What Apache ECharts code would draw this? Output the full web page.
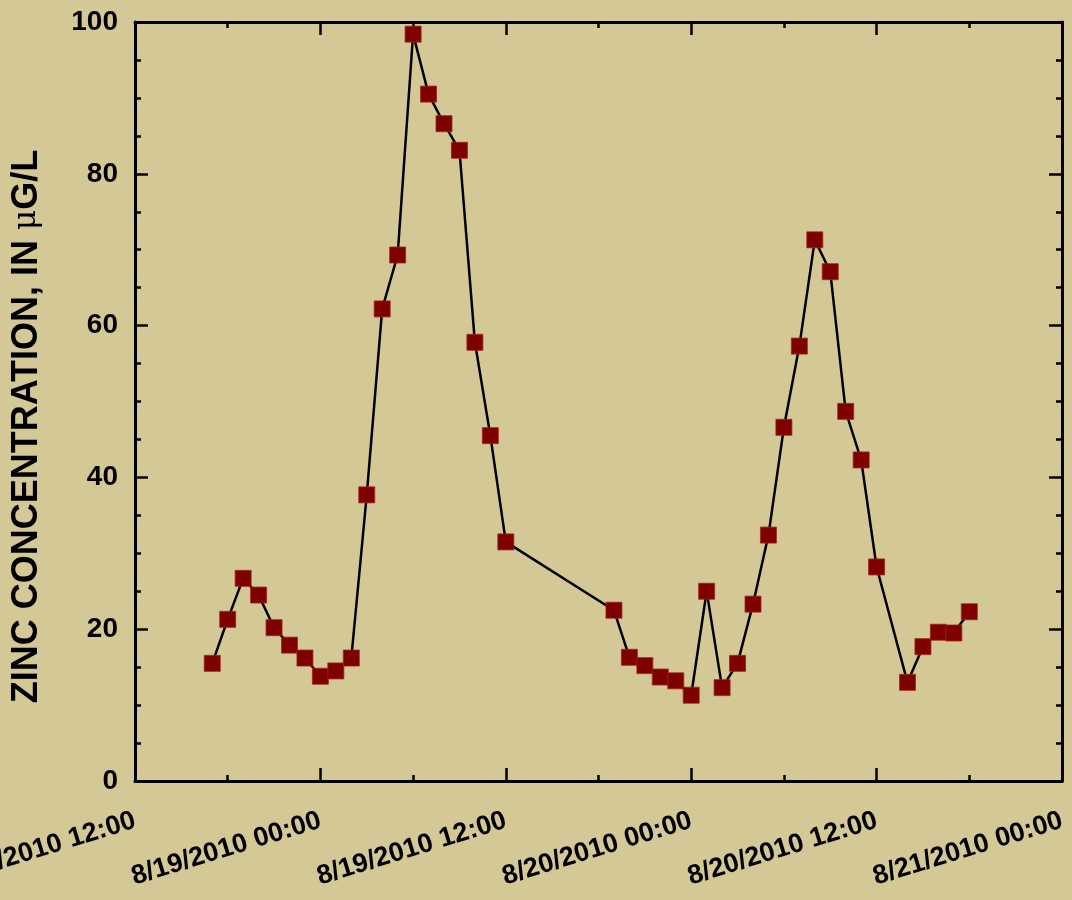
<!DOCTYPE html>
<html>
<head>
<meta charset="utf-8">
<script src="https://cdn.jsdelivr.net/npm/echarts@6/dist/echarts.min.js"></script>
<style>
html,body{margin:0;padding:0;background:#D3C896;}
#chart{width:1072px;height:900px;}
</style>
</head>
<body>
<div id="chart"></div>
<script>
var sampleTimes = [
  '2010-08-18T17:00Z','2010-08-18T18:00Z','2010-08-18T19:00Z','2010-08-18T20:00Z','2010-08-18T21:00Z',
  '2010-08-18T22:00Z','2010-08-18T23:00Z','2010-08-19T00:00Z','2010-08-19T01:00Z','2010-08-19T02:00Z',
  '2010-08-19T03:00Z','2010-08-19T04:00Z','2010-08-19T05:00Z','2010-08-19T06:00Z','2010-08-19T07:00Z',
  '2010-08-19T08:00Z','2010-08-19T09:00Z','2010-08-19T10:00Z','2010-08-19T11:00Z','2010-08-19T12:00Z',
  '2010-08-19T19:00Z','2010-08-19T20:00Z','2010-08-19T21:00Z','2010-08-19T22:00Z','2010-08-19T23:00Z',
  '2010-08-20T00:00Z','2010-08-20T01:00Z','2010-08-20T02:00Z','2010-08-20T03:00Z','2010-08-20T04:00Z',
  '2010-08-20T05:00Z','2010-08-20T06:00Z','2010-08-20T07:00Z','2010-08-20T08:00Z','2010-08-20T09:00Z',
  '2010-08-20T10:00Z','2010-08-20T11:00Z','2010-08-20T12:00Z','2010-08-20T14:00Z','2010-08-20T15:00Z',
  '2010-08-20T16:00Z','2010-08-20T17:00Z','2010-08-20T18:00Z'
];
var zinc = [
  15.5, 21.3, 26.7, 24.5, 20.2,
  17.9, 16.2, 13.8, 14.5, 16.2,
  37.7, 62.2, 69.3, 98.4, 90.5,
  86.6, 83.1, 57.8, 45.5, 31.5,
  22.5, 16.3, 15.2, 13.7, 13.2,
  11.3, 25.0, 12.3, 15.5, 23.3,
  32.4, 46.6, 57.3, 71.3, 67.1,
  48.7, 42.3, 28.2, 13.0, 17.7,
  19.6, 19.5, 22.3
];
var xRange = ['2010-08-18T12:00Z', '2010-08-21T00:00Z'];
var yTicks = [0, 20, 40, 60, 80, 100];
var yTitle = 'ZINC CONCENTRATION, IN ';

var H = 3600 * 1000;
var xMin = Date.parse(xRange[0]);
var xMax = Date.parse(xRange[1]);
var data = sampleTimes.map(function (t, i) { return [Date.parse(t), zinc[i]]; });

function fmt(v) {
  var d = new Date(v);
  var p = function (n) { return (n < 10 ? '0' : '') + n; };
  return (d.getUTCMonth() + 1) + '/' + d.getUTCDate() + '/' + d.getUTCFullYear() + ' ' +
    p(d.getUTCHours()) + ':' + p(d.getUTCMinutes());
}

var axisLine = { show: true, onZero: false, lineStyle: { color: '#000', width: 3 } };
var majorTick = { show: true, inside: true, length: 13, lineStyle: { color: '#000', width: 2.5 } };
var minorTick = function (n) { return { show: true, splitNumber: n, length: 6, lineStyle: { color: '#000', width: 2.5 } }; };
var font = 'Liberation Sans, Arial, sans-serif';

var chart = echarts.init(document.getElementById('chart'));
chart.setOption({
  backgroundColor: '#D3C896',
  animation: false,
  grid: { left: 135, right: 10, top: 22, bottom: 119, containLabel: false, outerBoundsMode: 'none' },
  xAxis: [{
    type: 'value', min: xMin, max: xMax, interval: 12 * H, position: 'bottom',
    axisLine: axisLine, axisTick: majorTick, minorTick: minorTick(2),
    splitLine: { show: false }, minorSplitLine: { show: false },
    axisLabel: {
      formatter: fmt, rotate: 17, margin: 39, color: '#000',
      fontSize: 27, fontWeight: 'bold', fontFamily: font, showMinLabel: true, showMaxLabel: true,
      hideOverlap: false
    }
  }, {
    type: 'value', min: xMin, max: xMax, interval: 12 * H, position: 'top',
    axisLine: axisLine, axisTick: majorTick, minorTick: minorTick(2),
    splitLine: { show: false }, axisLabel: { show: false }
  }],
  yAxis: [{
    type: 'value', min: yTicks[0], max: yTicks[yTicks.length - 1], interval: yTicks[1] - yTicks[0],
    position: 'left',
    axisLine: axisLine, axisTick: majorTick, minorTick: minorTick(4),
    splitLine: { show: false },
    axisLabel: { margin: 17, color: '#000', fontSize: 28, fontWeight: 'bold', fontFamily: font },
    name: '{t|' + yTitle + '}{mu|\u03bc}{t|G/L}',
    nameLocation: 'middle', nameRotate: 90, nameGap: 90,
    nameTextStyle: {
      padding: [0, 50, 0, 0],
      rich: {
        t: { fontSize: 36, fontWeight: 'bold', fontFamily: font, color: '#000' },
        mu: { fontSize: 31, fontWeight: 'normal', fontFamily: 'DejaVu Serif, serif', color: '#000' }
      }
    }
  }, {
    type: 'value', min: yTicks[0], max: yTicks[yTicks.length - 1], interval: yTicks[1] - yTicks[0],
    position: 'right',
    axisLine: axisLine, axisTick: majorTick, minorTick: minorTick(4),
    splitLine: { show: false }, axisLabel: { show: false }
  }],
  series: [{
    type: 'line', data: data, xAxisIndex: 0, yAxisIndex: 0,
    symbol: 'rect', symbolSize: 16,
    lineStyle: { color: '#000', width: 2.5 },
    itemStyle: { color: '#7F0000', borderColor: '#9A2A1A', borderWidth: 0.8 }
  }]
});
</script>
</body>
</html>
